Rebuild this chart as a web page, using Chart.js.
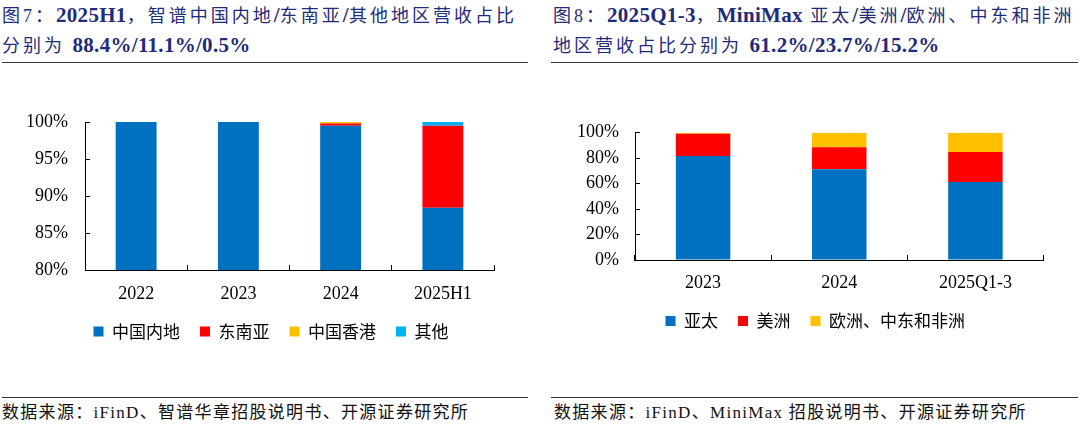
<!DOCTYPE html>
<html>
<head>
<meta charset="utf-8">
<script src="https://cdn.jsdelivr.net/npm/chart.js@4.4.1/dist/chart.umd.min.js"></script>
<style>
    body {
        margin: 0;
        width: 1080px;
        height: 427px;
        background: #fff;
        position: relative;
        overflow: hidden;
        font-family: "Liberation Serif", "Noto Sans CJK SC", serif;
    }
    .title {
        position: absolute;
        top: 1px;
        font-size: 18px;
        line-height: 29px;
        letter-spacing: 3px;
        color: #1f2b7b;
        white-space: nowrap;
    }
    .title b {
        font-size: 21px;
        letter-spacing: 0.3px;
    }
    .rule {
        position: absolute;
        height: 1px;
        background: #333;
    }
    .source {
        position: absolute;
        top: 403px;
        font-size: 17px;
        line-height: 20px;
        letter-spacing: 1.3px;
        color: #111;
        white-space: nowrap;
    }
    .box {
        position: absolute;
        top: 100px;
        width: 540px;
        height: 250px;
    }
</style>
</head>
<body>
<div class="title" style="left:2px">图7：<b>2025H1</b>，智谱中国内地<b>/</b>东南亚<b>/</b>其他地区营收占比<br>分别为 <b>88.4%/11.1%/0.5%</b></div>
<div class="title" style="left:553px">图8：<b>2025Q1-3</b>，<b>MiniMax</b> 亚太<b>/</b>美洲<b>/</b>欧洲、中东和非洲<br>地区营收占比分别为 <b>61.2%/23.7%/15.2%</b></div>
<div class="rule" style="left:2px; width:526px; top:62px"></div>
<div class="rule" style="left:551px; width:527px; top:62px"></div>

<div class="box" style="left:0"><canvas id="regionChart"></canvas></div>
<div class="box" style="left:540px"><canvas id="minimaxChart"></canvas></div>

<div class="rule" style="left:2px; width:526px; top:397px"></div>
<div class="rule" style="left:551px; width:527px; top:397px"></div>
<div class="source" style="left:2px">数据来源：iFinD、智谱华章招股说明书、开源证券研究所</div>
<div class="source" style="left:554px">数据来源：iFinD、MiniMax 招股说明书、开源证券研究所</div>

<script>
// Figure 7: Zhipu revenue split by region (%)
const zhipuPeriods = ['2022', '2023', '2024', '2025H1'];
const mainland = [100, 100, 99.5, 88.4];
const southeastAsia = [0, 0, 0.3, 11.1];
const hongKong = [0, 0, 0.2, 0];
const others = [0, 0, 0, 0.5];
const zhipuTicks = [80, 85, 90, 95, 100];

// Figure 8: MiniMax revenue split by region (%)
const minimaxPeriods = ['2023', '2024', '2025Q1-3'];
const asiaPacific = [81.6, 71.2, 61.2];
const americas = [17.6, 17.3, 23.7];
const emea = [0.8, 11.5, 15.2];
const minimaxTicks = [0, 20, 40, 60, 80, 100];

const BLUE = '#0070C0', RED = '#FF0000', ORANGE = '#FFC000', SKY = '#00B0F0';
const serif = { family: '"Liberation Serif", "Times New Roman", serif', size: 18 };

// nudge the legend sideways (it is centred on the whole canvas by default)
const legendShift = {
    id: 'legendShift',
    afterLayout(chart, args, opts) {
        chart.legend.left += opts.dx;
        chart.legend.right += opts.dx;
    }
};

function bar(label, data, color) {
    return {
        label: label,
        data: data,
        backgroundColor: color,
        borderWidth: 0,
        categoryPercentage: 1,
        barPercentage: 0.4
    };
}

function buildOptions(cfg) {
    return {
        responsive: true,
        maintainAspectRatio: false,
        animation: false,
        layout: { padding: cfg.padding },
        plugins: {
            tooltip: { enabled: false },
            legendShift: { dx: cfg.legendDx },
            legend: {
                position: 'bottom',
                labels: {
                    color: '#000',
                    boxWidth: 10,
                    boxHeight: 10,
                    padding: 20,
                    font: { family: '"Noto Sans CJK SC", sans-serif', size: 17 }
                }
            }
        },
        scales: {
            x: {
                stacked: true,
                grid: { drawOnChartArea: false, color: '#000', tickLength: -5 },
                border: { color: '#000' },
                ticks: { color: '#000', font: serif, padding: cfg.xPad },
                afterFit: s => { s.height = cfg.xHeight; }
            },
            y: {
                stacked: true,
                min: cfg.ticks[0],
                max: cfg.ticks[cfg.ticks.length - 1],
                grid: { drawOnChartArea: false, color: '#000', tickLength: -5 },
                border: { color: '#000' },
                ticks: { color: '#000', font: serif, padding: cfg.yPad, callback: v => v + '%' },
                afterBuildTicks: s => { s.ticks = cfg.ticks.map(v => ({ value: v })); },
                afterFit: s => {
                    s.width = cfg.yWidth;
                    s.paddingTop = 0;
                    s.paddingBottom = 0;
                }
            }
        }
    };
}

new Chart(document.getElementById('regionChart'), {
    type: 'bar',
    data: {
        labels: zhipuPeriods,
        datasets: [
            bar('中国内地', mainland, BLUE),
            bar('东南亚', southeastAsia, RED),
            bar('中国香港', hongKong, ORANGE),
            bar('其他', others, SKY)
        ]
    },
    options: buildOptions({
        padding: { top: 22, right: 46, bottom: 0, left: 0 },
        yWidth: 85, xHeight: 33, xPad: 18, yPad: 22, legendDx: 24, ticks: zhipuTicks
    }),
    plugins: [legendShift]
});

new Chart(document.getElementById('minimaxChart'), {
    type: 'bar',
    data: {
        labels: minimaxPeriods,
        datasets: [
            bar('亚太', asiaPacific, BLUE),
            bar('美洲', americas, RED),
            bar('欧洲、中东和非洲', emea, ORANGE)
        ]
    },
    options: buildOptions({
        padding: { top: 32.7, right: 36.5, bottom: 10.5, left: 0 },
        yWidth: 95, xHeight: 32.5, xPad: 17, yPad: 21, legendDx: 23.5, ticks: minimaxTicks
    }),
    plugins: [legendShift]
});
</script>
</body>
</html>
